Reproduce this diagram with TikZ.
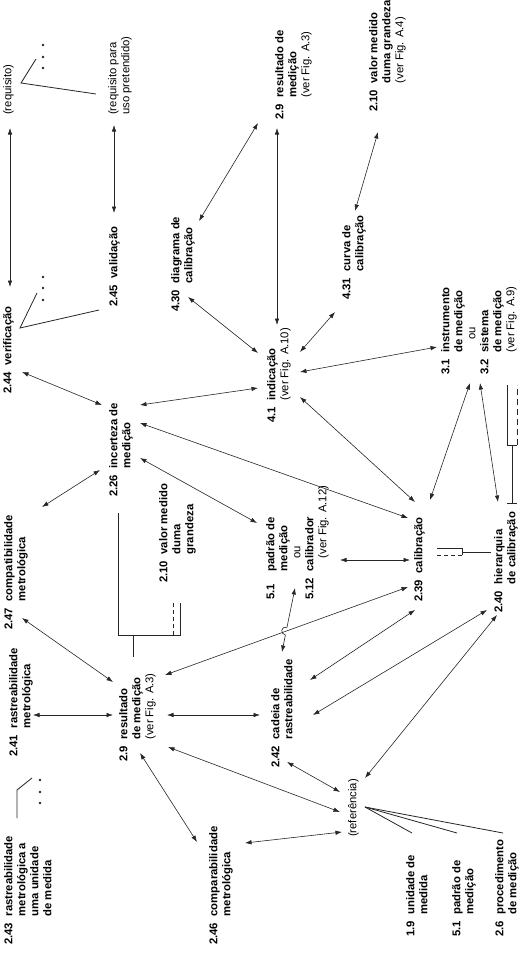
\documentclass[tikz,border=0pt]{standalone}
\usepackage{fontspec}
\setmainfont{Liberation Sans}
\usetikzlibrary{arrows.meta}
\newcommand{\tb}[2]{\begin{tabular}{@{}l@{\hspace{6.5pt}}l@{}}#1&#2\end{tabular}}
\newcommand{\rgl}{\mdseries}
\begin{document}
\begin{tikzpicture}[x=1pt,y=-1pt,
  lbl/.style={rotate=90,anchor=north west,inner sep=0pt,font=\fontsize{11.3}{13}\selectfont\bfseries},
  con/.style={{Latex[length=6.5pt,width=4.5pt]}-{Latex[length=6.5pt,width=4.5pt]},line width=0.6pt,draw=black!85},
  tree/.style={line width=0.8pt,draw=black!85},
  dot/.style={circle,fill=black!85,inner sep=0pt,minimum size=2.8pt}]
\useasboundingbox[fill=white] (0,0) rectangle (529,966);

% ---------------- labels ----------------
\node[lbl] (req) at (3,115) {\rgl (requisito)};
\node[lbl] (reqp) at (107,115) {\rgl\begin{tabular}{@{}l@{}}(requisito para\\ uso pretendido)\end{tabular}};
\node[lbl] (verif) at (2,394) {\tb{2.44}{verificação}};
\node[lbl] (valid) at (108,307) {\tb{2.45}{validação}};
\node[lbl] (diag) at (170,312) {\tb{4.30}{diagrama de\\ & calibração}};
\node[lbl] (restop) at (274,120) {\tb{2.9}{resultado de\\ & medição\\ & \rgl (ver Fig. A.3)}};
\node[lbl] (valtop) at (368,112) {\tb{2.10}{valor medido\\ & duma grandeza\\ & \rgl (ver Fig. A.4)}};
\node[lbl] (curva) at (341,300) {\tb{4.31}{curva de\\ & calibração}};
\node[lbl] (incert) at (108,497) {\tb{2.26}{incerteza de\\ & medição}};
\node[lbl] (ind) at (266,423) {\tb{4.1}{indicação\\ & \rgl (ver Fig. A.10)}};
\node[lbl] (instr) at (440,375) {\tb{3.1}{instrumento\\ & de medição\\ & \rgl\hspace{13pt}ou\\ 3.2 & sistema\\ & de medição\\ & \rgl (ver Fig. A.9)}};
\node[lbl] (compat) at (3,630) {\tb{2.47}{compatibilidade\\ & metrológica}};
\node[lbl] (valmid) at (158,583) {\tb{2.10}{valor medido\\ & duma\\ & grandeza}};
\node[lbl] (padrao) at (265,600) {\tb{5.1}{padrão de\\ & medição\\ & \rgl\hspace{13pt}ou\\ 5.12 & calibrador\\ & \rgl\hspace{13pt}(ver Fig. A.12)}};
\node[lbl] (calib) at (413,602) {\tb{2.39}{calibração}};
\node[lbl] (hier) at (493,613) {\tb{2.40}{hierarquia\\ & de calibração}};
\node[lbl] (rastr) at (8,757) {\tb{2.41}{rastreabilidade\\ & metrológica}};
\node[lbl] (reslow) at (118,762) {\tb{2.9}{resultado\\ & de medição\\ & \rgl (ver Fig. A.3)}};
\node[lbl] (cadeia) at (270,768) {\tb{2.42}{cadeia de\\ & rastreabilidade}};
\node[lbl] (rastru) at (3,945) {\tb{2.43}{rastreabilidade\\ & metrológica a\\ & uma unidade\\ & de medida}};
\node[lbl] (compar) at (208,945) {\tb{2.46}{comparabilidade\\ & metrológica}};
\node[lbl] (ref) at (348,837) {\rgl (referência)};
\node[lbl] (unid) at (405,937) {\tb{1.9}{unidade de\\ & medida}};
\node[lbl] (padr2) at (451,937) {\tb{5.1}{padrão de\\ & medição}};
\node[lbl] (proc) at (494,937) {\tb{2.6}{procedimento\\ & de medição}};

% ---------------- connector ends ----------------
\coordinate (verif-n) at (10,287);  \coordinate (req-s) at (10,128);
\coordinate (valid-n) at (114,213); \coordinate (reqp-s) at (114,125);
\coordinate (verif-e) at (22,372);  \coordinate (incert-a) at (102,405);
\coordinate (compat-e) at (42,507); \coordinate (incert-b) at (100,470);
\coordinate (incert-c) at (140,405); \coordinate (ind-a) at (258,388);
\coordinate (incert-d) at (140,423); \coordinate (calib-a) at (408,518);
\coordinate (incert-e) at (140,458); \coordinate (padrao-a) at (257,523);
\coordinate (diag-a) at (199,221);  \coordinate (restop-a) at (258,123);
\coordinate (diag-b) at (188,297);  \coordinate (ind-b) at (258,353);
\coordinate (restop-b) at (277,128); \coordinate (ind-c) at (277,325);
\coordinate (curva-a) at (335,312); \coordinate (ind-d) at (300,352);
\coordinate (curva-b) at (355,211); \coordinate (valtop-a) at (378,132);
\coordinate (ind-e) at (300,372);   \coordinate (instr-a) at (437,347);
\coordinate (ind-f) at (300,397);   \coordinate (calib-b) at (415,502);
\coordinate (instr-b) at (470,383); \coordinate (calib-c) at (430,500);
\coordinate (instr-c) at (480,383); \coordinate (hier-a) at (498,502);
\coordinate (padrao-b) at (340,560); \coordinate (calib-d) at (410,560);
\coordinate (compat-f) at (22,618); \coordinate (reslow-a) at (113,682);
\coordinate (rastr-a) at (33,715);  \coordinate (reslow-b) at (113,715);
\coordinate (reslow-c) at (167,715); \coordinate (cadeia-a) at (260,715);
\coordinate (reslow-d) at (165,675); \coordinate (calib-e) at (408,587);
\coordinate (padrao-c) at (295,588); \coordinate (cadeia-b) at (282,652);
\coordinate (jmp1) at (287.0,627.2); \coordinate (jmp2) at (285.4,635.0);
\coordinate (calib-f) at (415,610); \coordinate (cadeia-c) at (310,680);
\coordinate (hier-b) at (487,610);  \coordinate (cadeia-d) at (313,715);
\coordinate (hier-c) at (497,615);  \coordinate (ref-a) at (365,778);
\coordinate (cadeia-e) at (287,762); \coordinate (ref-b) at (340,792);
\coordinate (reslow-e) at (168,747); \coordinate (ref-c) at (340,812);
\coordinate (reslow-f) at (140,753); \coordinate (compar-a) at (197,842);
\coordinate (compar-b) at (245,843); \coordinate (ref-d) at (342,832);

% ---------------- connectors ----------------
\draw[con] (verif-n) -- (req-s);
\draw[con] (valid-n) -- (reqp-s);
\draw[con] (verif-e) -- (incert-a);
\draw[con] (compat-e) -- (incert-b);
\draw[con] (incert-c) -- (ind-a);
\draw[con] (incert-d) -- (calib-a);
\draw[con] (incert-e) -- (padrao-a);
\draw[con] (diag-a) -- (restop-a);
\draw[con] (diag-b) -- (ind-b);
\draw[con] (restop-b) -- (ind-c);
\draw[con] (curva-a) -- (ind-d);
\draw[con] (curva-b) -- (valtop-a);
\draw[con] (ind-e) -- (instr-a);
\draw[con] (ind-f) -- (calib-b);
\draw[con] (instr-b) -- (calib-c);
\draw[con] (instr-c) -- (hier-a);
\draw[con] (padrao-b) -- (calib-d);
\draw[con] (compat-f) -- (reslow-a);
\draw[con] (rastr-a) -- (reslow-b);
\draw[con] (reslow-c) -- (cadeia-a);
\draw[con] (reslow-d) -- (calib-e);
\draw[con] (padrao-c) -- (jmp1) .. controls (281.1,626.0) and (279.5,633.8) .. (jmp2) -- (cadeia-b);
\draw[con] (calib-f) -- (cadeia-c);
\draw[con] (hier-b) -- (cadeia-d);
\draw[con] (hier-c) -- (ref-a);
\draw[con] (cadeia-e) -- (ref-b);
\draw[con] (reslow-e) -- (ref-c);
\draw[con] (reslow-f) -- (compar-a);
\draw[con] (compar-b) -- (ref-d);

% ---------------- trees and brackets ----------------
\coordinate (t1v) at (21,83);
\draw[tree] (36,59) -- (t1v) -- (96,94);
\node[dot] (t1d1) at (43,45) {}; \node[dot] (t1d2) at (43,57) {}; \node[dot] (t1d3) at (43,68) {};
\coordinate (t2v) at (20,328);
\draw[tree] (37,293) -- (t2v) -- (99,310);
\node[dot] (t2d1) at (43,277) {}; \node[dot] (t2d2) at (43,288) {}; \node[dot] (t2d3) at (43,300) {};
\coordinate (t3v) at (17,790);
\draw[tree] (32,778) -- (t3v) -- (17,818);
\node[dot] (t3d1) at (40,780) {}; \node[dot] (t3d2) at (40,792) {}; \node[dot] (t3d3) at (40,803) {};
\coordinate (t4v) at (365,807);
\draw[tree] (t4v) -- (412,833);
\draw[tree] (t4v) -- (457,833);
\draw[tree] (t4v) -- (503,833);

% bracket under 2.26 / 2.10
\draw[tree] (118,513) -- (118,635) -- (180,635) -- (180,603);
\draw[tree,dash pattern=on 4pt off 3pt] (173,635) -- (173,603);
\draw[tree] (133,635) -- (133,657);
% bracket near 2.39
\draw[tree] (437,548) -- (462,548) -- (462,555);
\draw[tree,dash pattern=on 4pt off 3pt] (462,555) -- (437,555);
\draw[tree] (462,552) -- (491,552);
% bracket under 3.1 / 3.2
\draw[tree] (507,385) -- (507,445) -- (517,445);
\draw[tree,dash pattern=on 6pt off 4pt] (517,445) -- (517,385);
\draw[tree] (512,445) -- (512,503);
\draw[tree] (507,503) -- (517,503);
\end{tikzpicture}
\end{document}
